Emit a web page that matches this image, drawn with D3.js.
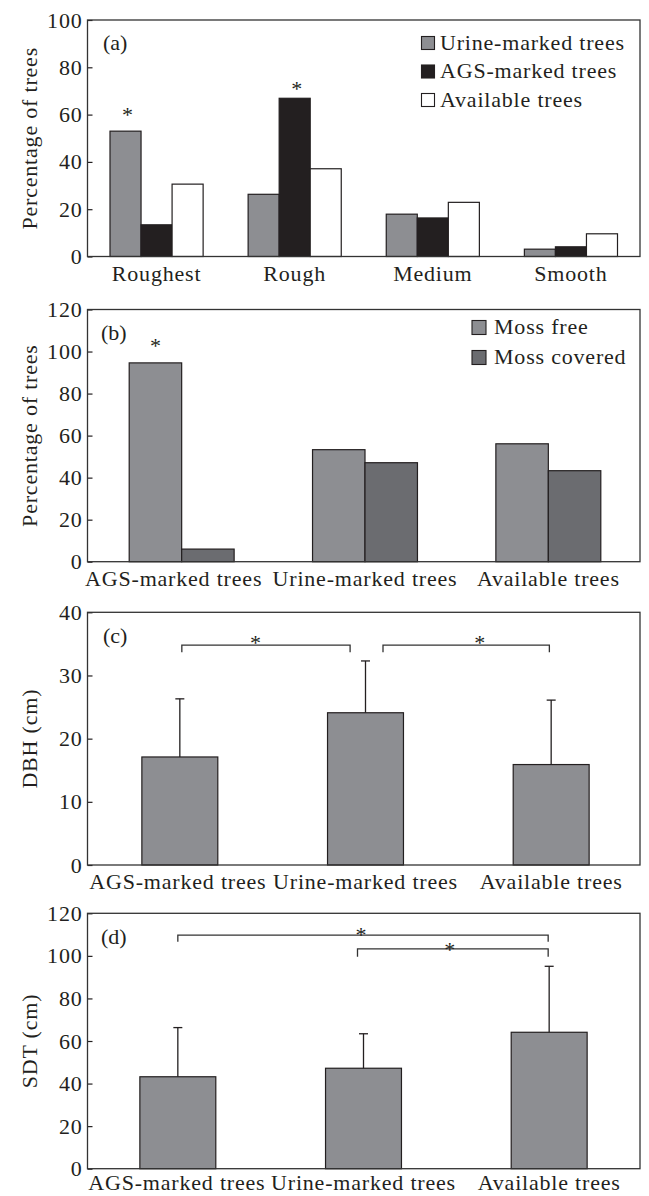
<!DOCTYPE html>
<html><head><meta charset="utf-8">
<script src="https://cdn.jsdelivr.net/npm/d3@7"></script>
<style>
body{margin:0;background:#fff}
svg text{font-family:"Liberation Serif","Times New Roman",serif;fill:#231f20}
</style>
</head><body>
<svg id="chart" width="649" height="1196"></svg>
<script>
// ---------- DATA ----------
const roughCats = ["Roughest", "Rough", "Medium", "Smooth"];
const roughSeries = ["Urine-marked trees", "AGS-marked trees", "Available trees"];
const urineRough = [53.0, 26.3, 17.9, 3.1];
const agsRough = [13.4, 66.9, 16.3, 4.1];
const availRough = [30.6, 37.1, 22.9, 9.6];
const roughTicks = [0, 20, 40, 60, 80, 100];
const roughStars = [{cat: "Roughest", series: "Urine-marked trees", v: 61.2},
                    {cat: "Rough", series: "AGS-marked trees", v: 72.2}];

const treeCats = ["AGS-marked trees", "Urine-marked trees", "Available trees"];
const mossSeries = ["Moss free", "Moss covered"];
const mossFree = [94.6, 53.3, 56.1];
const mossCovered = [6.0, 47.1, 43.3];
const mossTicks = [0, 20, 40, 60, 80, 100, 120];
const mossStars = [{cat: "AGS-marked trees", series: "Moss free", v: 104.2}];

const dbhMean = [17.1, 24.1, 15.9];
const dbhSD = [9.2, 8.2, 10.2];
const dbhTicks = [0, 10, 20, 30, 40];
const dbhPairs = [["AGS-marked trees", "Urine-marked trees"], ["Urine-marked trees", "Available trees"]];
const dbhPairLevel = [34.8, 34.8];

const sdtMean = [43.2, 47.2, 64.1];
const sdtSD = [23.1, 16.2, 31.0];
const sdtTicks = [0, 20, 40, 60, 80, 100, 120];
const sdtPairs = [["AGS-marked trees", "Available trees"], ["Urine-marked trees", "Available trees"]];
const sdtPairLevel = [109.7, 103.3];

// ---------- STYLE ----------
const INK = "#231f20";
const FS = 22, LS = 0.8;
const colRough = {"Urine-marked trees": "#8d8e92", "AGS-marked trees": "#231f20", "Available trees": "#ffffff"};
const colMoss = {"Moss free": "#8d8e92", "Moss covered": "#6b6c70"};
const barGray = "#8d8e92";

const svg = d3.select("#chart");

function yAxis(p, y, ticks) {
  const g = svg.append("g").attr("transform", `translate(${p.left},0)`)
    .call(d3.axisLeft(y).tickValues(ticks).tickSize(-5).tickPadding(5).tickFormat(d3.format("d")));
  g.select(".domain").remove();
  g.attr("font-size", FS).attr("font-family", null).style("color", INK);
  g.selectAll("line").attr("stroke-width", 1.2);
  g.selectAll("text").attr("letter-spacing", LS);
  return g;
}
function xAxis(p, x, dxFirst, pad) {
  const g = svg.append("g").attr("transform", `translate(0,${p.bottom})`)
    .call(d3.axisBottom(x).tickSize(0).tickPadding(pad === undefined ? 8.5 : pad));
  g.select(".domain").remove();
  g.attr("font-size", FS).attr("font-family", null).style("color", INK);
  g.selectAll("text").attr("letter-spacing", LS);
  if (dxFirst) g.selectAll("text").filter((d, i) => i === 0).attr("dx", dxFirst);
}
function frame(p) {
  svg.append("rect").attr("x", p.left).attr("y", p.top)
    .attr("width", p.right - p.left).attr("height", p.bottom - p.top)
    .attr("fill", "none").attr("stroke", "#333").attr("stroke-width", 1.3);
}
function yTitle(p, txt) {
  const cy = (p.top + p.bottom) / 2;
  svg.append("text").attr("transform", `translate(36.5,${cy}) rotate(-90)`)
    .attr("text-anchor", "middle").attr("font-size", FS).attr("letter-spacing", LS).text(txt);
}
function panelLabel(x, y, txt) {
  svg.append("text").attr("x", x).attr("y", y).attr("font-size", FS).text(txt);
}
function star(x, yc) {
  svg.append("text").attr("x", x).attr("y", yc + 10).attr("text-anchor", "middle")
    .attr("font-size", FS).text("*");
}

// ---------- PANEL A ----------
(function () {
  const p = {left: 87.5, right: 640, top: 20, bottom: 256.5};
  const x0 = d3.scaleBand().domain(roughCats).range([p.left, p.right]);
  const off = 22.5;
  const x1 = d3.scaleBand().domain(roughSeries).range([off, x0.bandwidth() - off]);
  const y = d3.scaleLinear().domain([0, 100]).range([p.bottom, p.top]);
  const vals = {"Urine-marked trees": urineRough, "AGS-marked trees": agsRough, "Available trees": availRough};
  const data = [];
  roughCats.forEach((c, i) => roughSeries.forEach(s => data.push({c, s, v: vals[s][i]})));
  svg.append("g").selectAll("rect").data(data).join("rect")
    .attr("x", d => x0(d.c) + x1(d.s)).attr("width", x1.bandwidth())
    .attr("y", d => y(d.v)).attr("height", d => y(0) - y(d.v))
    .attr("fill", d => colRough[d.s]).attr("stroke", INK).attr("stroke-width", 1.2);
  yAxis(p, y, roughTicks);
  xAxis(p, x0);
  frame(p);
  yTitle(p, "Percentage of trees");
  panelLabel(103, 50, "(a)");
  roughStars.forEach(s => star(x0(s.cat) + x1(s.series) + x1.bandwidth() / 2 + 2, y(s.v)));
  const lg = svg.append("g");
  roughSeries.forEach((s, i) => {
    const base = 49.5 + i * 28.5;
    lg.append("rect").attr("x", 421.5).attr("y", base - 13).attr("width", 13).attr("height", 13)
      .attr("fill", colRough[s]).attr("stroke", INK).attr("stroke-width", 1.1);
    lg.append("text").attr("x", 440).attr("y", base).attr("font-size", FS).attr("letter-spacing", LS).text(s);
  });
})();

// ---------- PANEL B ----------
(function () {
  const p = {left: 87.5, right: 640, top: 309.5, bottom: 561.7};
  const x0 = d3.scaleBand().domain(treeCats).range([90, 640]);
  const off = 39.2;
  const x1 = d3.scaleBand().domain(mossSeries).range([off, x0.bandwidth() - off]);
  const y = d3.scaleLinear().domain([0, 120]).range([p.bottom, p.top]);
  const vals = {"Moss free": mossFree, "Moss covered": mossCovered};
  const data = [];
  treeCats.forEach((c, i) => mossSeries.forEach(s => data.push({c, s, v: vals[s][i]})));
  svg.append("g").selectAll("rect").data(data).join("rect")
    .attr("x", d => x0(d.c) + x1(d.s)).attr("width", x1.bandwidth())
    .attr("y", d => y(d.v)).attr("height", d => y(0) - y(d.v))
    .attr("fill", d => colMoss[d.s]).attr("stroke", INK).attr("stroke-width", 1.2);
  yAxis(p, y, mossTicks);
  xAxis(p, x0, -8);
  frame(p);
  yTitle(p, "Percentage of trees");
  panelLabel(101, 340, "(b)");
  mossStars.forEach(s => star(x0(s.cat) + x1(s.series) + x1.bandwidth() / 2, y(s.v)));
  const lg = svg.append("g");
  mossSeries.forEach((s, i) => {
    const base = 333.5 + i * 30;
    lg.append("rect").attr("x", 472).attr("y", base - 13).attr("width", 14).attr("height", 14)
      .attr("fill", colMoss[s]).attr("stroke", INK).attr("stroke-width", 1.1);
    lg.append("text").attr("x", 494).attr("y", base).attr("font-size", FS).attr("letter-spacing", LS).text(s);
  });
})();

// ---------- MEAN + SD PANELS ----------
function meanPanel(p, range, means, sds, maxY, ticks, title, lbl, pairs, levels, st, dxFirst, pad) {
  const x = d3.scaleBand().domain(treeCats).range(range).paddingInner(0.591).paddingOuter(0.2955);
  const y = d3.scaleLinear().domain([0, maxY]).range([p.bottom, p.top]);
  const data = treeCats.map((c, i) => ({c, m: means[i], sd: sds[i]}));
  const cx = c => x(c) + x.bandwidth() / 2;
  svg.append("g").selectAll("rect").data(data).join("rect")
    .attr("x", d => x(d.c)).attr("width", x.bandwidth())
    .attr("y", d => y(d.m)).attr("height", d => y(0) - y(d.m))
    .attr("fill", barGray).attr("stroke", INK).attr("stroke-width", 1.2);
  const eb = svg.append("g").attr("stroke", INK).attr("stroke-width", 1.3);
  data.forEach(d => {
    eb.append("line").attr("x1", cx(d.c)).attr("x2", cx(d.c)).attr("y1", y(d.m)).attr("y2", y(d.m + d.sd));
    eb.append("line").attr("x1", cx(d.c) - 4.5).attr("x2", cx(d.c) + 4.5).attr("y1", y(d.m + d.sd)).attr("y2", y(d.m + d.sd));
  });
  yAxis(p, y, ticks);
  xAxis(p, x, dxFirst, pad);
  frame(p);
  yTitle(p, title);
  panelLabel(lbl[0], lbl[1], lbl[2]);
  const bg = svg.append("g").attr("fill", "none").attr("stroke", "#333").attr("stroke-width", 1.3);
  pairs.forEach((pr, i) => {
    const xa = cx(pr[0]) + st.ends[i][0], xb = cx(pr[1]) + st.ends[i][1];
    const yy = y(levels[i]);
    bg.append("path").attr("d", `M${xa},${yy + st.legs[i]}V${yy}H${xb}V${yy + st.legs[i]}`);
    star((xa + xb) / 2 + st.starDx[i], yy - st.starUp[i]);
  });
}

meanPanel({left: 87.5, right: 640, top: 612.3, bottom: 865}, [87, 644],
  dbhMean, dbhSD, 40, dbhTicks, "DBH (cm)", [103, 643, "(c)"],
  dbhPairs, dbhPairLevel,
  {ends: [[2, -15.4], [17.5, -1.8]], legs: [7, 7], starDx: [-10.5, 13.6], starUp: [5, 5]}, -2, 8.5);

meanPanel({left: 87.5, right: 640, top: 913.3, bottom: 1168.7}, [85, 642],
  sdtMean, sdtSD, 120, sdtTicks, "SDT (cm)", [101, 944, "(d)"],
  sdtPairs, sdtPairLevel,
  {ends: [[0, -1], [-6, -1]], legs: [6.5, 8], starDx: [-2, -3], starUp: [3.6, 2.3]}, -1, 6);
</script>
</body></html>
